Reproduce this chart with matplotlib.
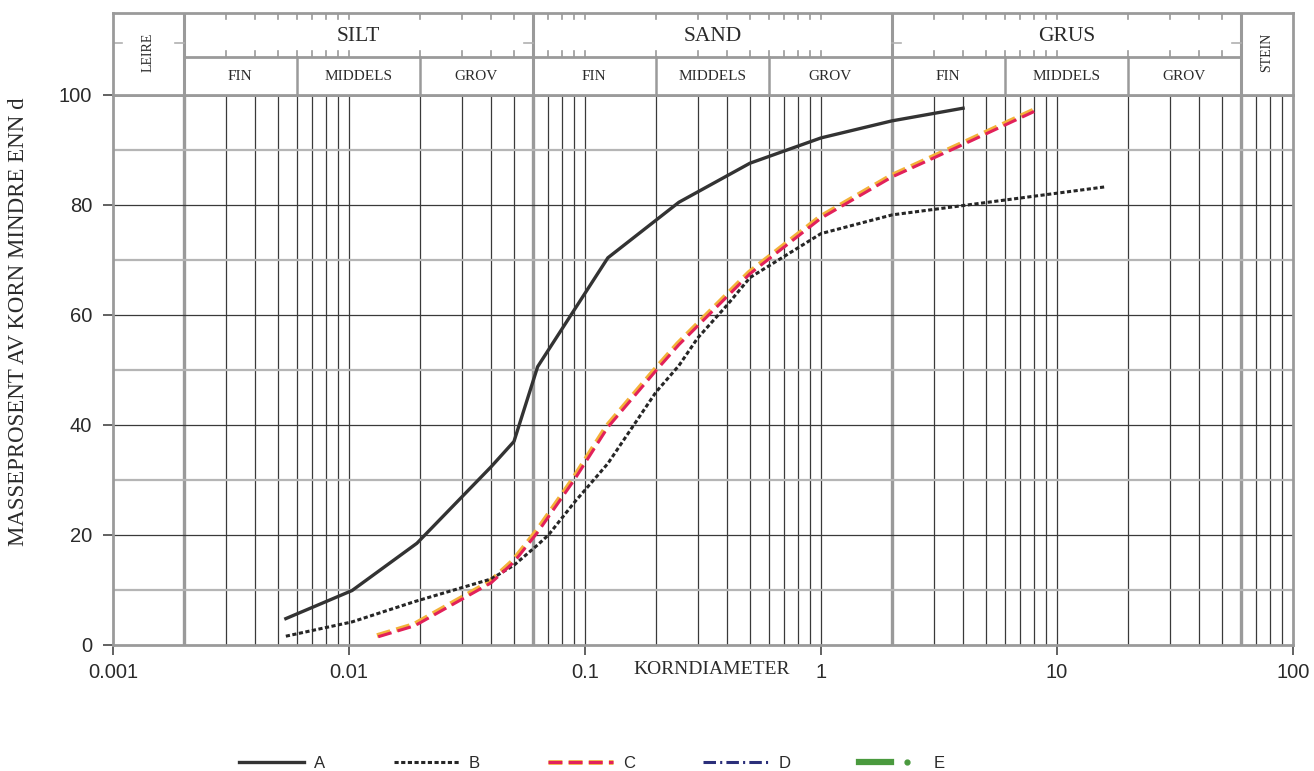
import numpy as np
import matplotlib.pyplot as plt
import matplotlib.transforms as mtransforms
from matplotlib.lines import Line2D
from matplotlib.legend_handler import HandlerTuple

# grain size curves (diameter in mm, percent passing)
d_a = [0.0054, 0.0103, 0.0194, 0.04, 0.05, 0.063, 0.125, 0.25, 0.5, 1, 2, 4]
p_a = [4.8, 9.9, 18.5, 32.4, 37.0, 50.6, 70.4, 80.5, 87.6, 92.2, 95.3, 97.6]

d_b = [0.0054, 0.0103, 0.019, 0.04, 0.05, 0.063, 0.07, 0.09, 0.125, 0.2, 0.25,
       0.3, 0.4, 0.5, 1, 2, 4, 8, 16]
p_b = [1.6, 4.2, 7.9, 12.0, 14.5, 18.2, 20.0, 25.9, 33.0, 46.0, 50.8,
       55.8, 61.8, 66.8, 74.8, 78.2, 79.9, 81.6, 83.3]

d_c = [0.0133, 0.019, 0.04, 0.05, 0.063, 0.09, 0.125, 0.2, 0.25, 0.5, 1, 2, 4, 8]
p_c = [1.5, 3.5, 11.3, 15.1, 20.5, 30.0, 39.6, 49.9, 54.6, 67.5, 77.6, 85.1, 91.0, 97.0]

# soil classes (Norwegian)
main_bounds = [0.002, 0.06, 2, 60]
main_names = ["SILT", "SAND", "GRUS"]
sub_bounds = [0.002, 0.006, 0.02, 0.06, 0.2, 0.6, 2, 6, 20, 60]
sub_names = ["FIN", "MIDDELS", "GROV"] * 3

x_ticks = [0.001, 0.01, 0.1, 1, 10, 100]
x_labels = ["0.001", "0.01", "0.1", "1", "10", "100"]
y_ticks = [0, 20, 40, 60, 80, 100]

SERIF = "Liberation Serif"
SANS = "Liberation Sans"
GRAY = "#9a9a9a"
INK = "#2a2a2a"

plt.rcParams["lines.scale_dashes"] = False

fig = plt.figure(figsize=(13.14, 7.71), dpi=100)
ax = fig.add_axes([113 / 1314, 126 / 771, 1180 / 1314, 550 / 771])
hax = fig.add_axes([113 / 1314, 676 / 771, 1180 / 1314, 82 / 771])

# minor log grid lines (not inside LEIRE)
minor = []
for k in range(-3, 2):
    for m in range(1, 10):
        v = m * 10.0 ** k
        if 0.0025 < v < 100 and not any(abs(v - b) / b < 1e-6 for b in main_bounds):
            minor.append(v)
for v in minor:
    ax.axvline(v, color="#3a3a3a", lw=0.9, zorder=1)
for b in main_bounds:
    ax.axvline(b, color=GRAY, lw=2.4, zorder=1)

for y in [20, 40, 60, 80]:
    ax.axhline(y, color="#3a3a3a", lw=0.9, zorder=1)
for y in [10, 30, 50, 70, 90]:
    ax.axhline(y, color="#b5b5b5", lw=1.6, zorder=1)

# curves
dash_b = (0, (3.0, 1.8))
dash_c = (0, (10.0, 4.5))
dash_d = (0, (9.0, 3.0, 1.5, 3.0))
shift = mtransforms.offset_copy(ax.transData, fig=fig, x=-1.2, y=1.2, units="dots")

ax.plot(d_a, p_a, color="#333333", lw=2.4, zorder=4)
ax.plot(d_b, p_b, color="#262626", lw=2.2, ls=dash_b, zorder=4)
ax.plot(d_c, p_c, color="#f3b23a", lw=3.4, ls=dash_c, zorder=3, transform=shift)
ax.plot(d_c, p_c, color="#e2215a", lw=2.2, ls=dash_c, zorder=4)

ax.set_xscale("log")
ax.set_xlim(0.001, 100)
ax.set_ylim(0, 100)
ax.set_xticks(x_ticks)
ax.set_xticklabels(x_labels)
ax.xaxis.set_minor_locator(plt.NullLocator())
ax.set_yticks(y_ticks)
ax.tick_params(axis="both", colors="#555555", labelcolor=INK, labelsize=14.5,
               length=7, width=1.3)
ax.tick_params(axis="x", pad=6)
ax.tick_params(axis="y", pad=8)
for lab in ax.get_xticklabels() + ax.get_yticklabels():
    lab.set_fontfamily(SANS)
for s in ax.spines.values():
    s.set_color(GRAY)
    s.set_linewidth(2)

ax.set_ylabel("MASSEPROSENT AV KORN MINDRE ENN d", family=SERIF, fontsize=16.5,
              color=INK)
ax.yaxis.set_label_coords(-0.071, 0.587)
ax.text(0.344, -4.4, "KORNDIAMETER", family=SERIF, fontsize=14, color=INK,
        ha="center", va="center")

# header with soil classes
hax.set_xscale("log")
hax.set_xlim(0.001, 100)
hax.set_ylim(0, 1)
hax.set_xticks([])
hax.set_yticks([])
hax.minorticks_off()
for s in hax.spines.values():
    s.set_color(GRAY)
    s.set_linewidth(2)
mid = 38 / 82
hax.plot([main_bounds[0], main_bounds[-1]], [mid, mid], color=GRAY, lw=2)
for b in main_bounds:
    hax.plot([b, b], [0, 1], color=GRAY, lw=2.2)
for b in sub_bounds:
    hax.plot([b, b], [0, mid], color=GRAY, lw=1.8)
for v in minor:
    if v < 60:
        hax.plot([v, v], [1, 0.93], color=GRAY, lw=1.2)
        hax.plot([v, v], [mid, mid + 0.07], color=GRAY, lw=1.2)
# short marks on the inner side of the class borders
for b, side in [(0.001, 1), (0.002, -1), (0.06, -1), (2, 1), (60, -1)]:
    hax.plot([b, b * 1.09 ** side], [0.63, 0.63], color="#b0b0b0", lw=1.2)

for i, name in enumerate(main_names):
    xc = np.sqrt(main_bounds[i] * main_bounds[i + 1])
    hax.text(xc, 0.71, name, family=SERIF, fontsize=15.5, color=INK,
             ha="center", va="center")
for i, name in enumerate(sub_names):
    xc = np.sqrt(sub_bounds[i] * sub_bounds[i + 1])
    hax.text(xc, mid / 2, name, family=SERIF, fontsize=11, color=INK,
             ha="center", va="center")
hax.text(np.sqrt(0.001 * 0.002), 0.52, "LEIRE", family=SERIF, fontsize=10,
         color=INK, rotation=90, ha="center", va="center")
hax.text(np.sqrt(60 * 100), 0.52, "STEIN", family=SERIF, fontsize=10,
         color=INK, rotation=90, ha="center", va="center")

# legend below the chart (D and E have no data in the chart)
h_c = (Line2D([], [], color="#f3b23a", lw=3.4, ls=dash_c),
       Line2D([], [], color="#e2215a", lw=2.2, ls=dash_c))
h_e = (Line2D([], [], color="#4a9a3e", lw=4.5),
       Line2D([], [], ls="none", marker="o", ms=3.5, color="#4a9a3e"))
handles = [Line2D([], [], color="#333333", lw=2.4),
           Line2D([], [], color="#262626", lw=2.2, ls=dash_b),
           h_c,
           Line2D([], [], color="#2b2f7a", lw=2.2, ls=dash_d),
           h_e]
leg = fig.legend(handles, ["A", "B", "C", "D", "E"], ncol=5,
                 loc="center", bbox_to_anchor=(592 / 1314, 8 / 771),
                 frameon=False, handlelength=3.9, handletextpad=0.6,
                 columnspacing=4.1, prop={"family": SANS, "size": 12},
                 handler_map={h_c: HandlerTuple(ndivide=1),
                              h_e: HandlerTuple(ndivide=None, pad=0)})
for t in leg.get_texts():
    t.set_color(INK)

fig.savefig("out.png", dpi=100)
